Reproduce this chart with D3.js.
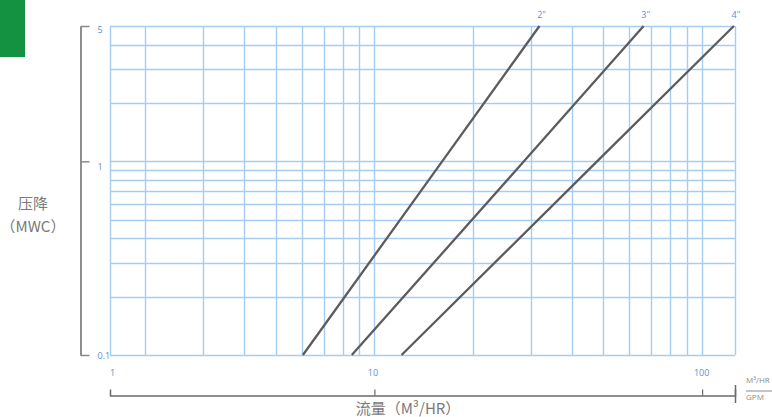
<!DOCTYPE html>
<html><head><meta charset="utf-8">
<script src="https://cdn.jsdelivr.net/npm/d3@7"></script>
<style>
html,body{margin:0;padding:0;background:#fff;}
svg{display:block;}
</style></head>
<body>
<svg id="chart" width="772" height="417"></svg>
<script>
// ---- data ----
const pressure = [0.1, 1, 5];                 // MWC
const flow2in  = [6.05, 16.1, 31.9];          // M3/HR
const flow3in  = [8.53, 28.6, 66.3];
const flow4in  = [12.1, 47.8, 125];
const seriesNames = ['2"', '3"', '4"'];
const xDomain = [1.56, 126];
const yDomain = [0.1, 5];
const xGridValues = [2,3,4,5,6,7,8,9,10,20,30,40,50,60,70,80,90,100];
const yGridValues = [0.2,0.3,0.4,0.5,0.6,0.7,0.8,0.9,1,2,3,4];
const yTickValues = [0.1, 1, 5];
const yTickLabels = ["0.1", "1", "5"];
const xTickValues = [1.56, 10, 100];
const xTickLabels = ["1", "10", "100"];

const svg = d3.select("#chart");
const L = 110, R = 735, T = 26, B = 355;

const x = d3.scaleLog().domain(xDomain).range([L, R]);
const y = d3.scaleLog().domain(yDomain).range([B, T]);

const gridColor = "#a6cdf0";
const blue = "#5b8fd4";
const gray = "#7a7a7a";
const font = "'Open Sans', 'Noto Sans', sans-serif";

// green corner block
svg.append("rect").attr("x",0).attr("y",0).attr("width",25).attr("height",57).attr("fill","#159241");

// grid
const g = svg.append("g");
g.selectAll("line.v").data([xDomain[0], ...xGridValues, xDomain[1]]).join("line")
  .attr("x1", d => Math.round(x(d))+0.5).attr("x2", d => Math.round(x(d))+0.5)
  .attr("y1", T).attr("y2", B)
  .attr("stroke", gridColor).attr("stroke-width", 1.4);
g.selectAll("line.h").data([yDomain[0], ...yGridValues, yDomain[1]]).join("line")
  .attr("y1", d => Math.round(y(d))+0.5).attr("y2", d => Math.round(y(d))+0.5)
  .attr("x1", L).attr("x2", R)
  .attr("stroke", gridColor).attr("stroke-width", 1.4);

// curves
const series = [flow2in, flow3in, flow4in];
const line = d3.line().x(d => x(d[0])).y(d => y(d[1]));
series.forEach((f, i) => {
  const pts = f.map((v, j) => [v, pressure[j]]);
  svg.append("path").attr("d", line(pts)).attr("fill","none")
    .attr("stroke","#5c5c5e").attr("stroke-width",2.3);
  svg.append("text").attr("x", x(f[f.length-1]) + 2).attr("y", 18)
    .attr("text-anchor","middle").attr("font-family",font)
    .attr("font-size", 9).attr("fill", blue).text(seriesNames[i]);
});

// y axis
const yAxis = d3.axisRight(y).tickValues(yTickValues)
  .tickFormat((d,i) => yTickLabels[i]).tickSize(9).tickSizeOuter(0).tickPadding(8);
const ya = svg.append("g").attr("transform","translate(80.5,0)").call(yAxis);
ya.select(".domain").attr("stroke","#6a6a6e").attr("stroke-width",1.5);
ya.selectAll(".tick line").attr("stroke","#8a8a8e").attr("stroke-width",1.5);
ya.selectAll(".tick text").attr("fill", blue).attr("font-size", 9)
  .attr("font-family",font)
  .attr("dy", d => d === 0.1 ? "0.4em" : (d === 1 ? "0.85em" : "0.75em"));

// x axis (bottom scale)
const xAxis = d3.axisTop(x).tickValues(xTickValues)
  .tickFormat((d,i) => xTickLabels[i]).tickSize(6).tickSizeOuter(6).tickPadding(14);
const xa = svg.append("g").attr("transform","translate(0,395.5)").call(xAxis);
xa.select(".domain").attr("stroke","#6a6a6e").attr("stroke-width",1.5);
xa.selectAll(".tick line").attr("stroke","#6a6a6e").attr("stroke-width",1.2);
xa.selectAll(".tick text").attr("fill", blue).attr("font-size", 9)
  .attr("font-family",font)
  .attr("dx", (d,i) => i === 0 ? "2" : (i === 1 ? "-2" : "-1"));
xa.selectAll(".tick").filter((d,i) => i === 0).select("line").remove();

// right end marker
svg.append("line").attr("x1",735.5).attr("x2",735.5).attr("y1",385).attr("y2",403)
  .attr("stroke","#6a6a6e").attr("stroke-width",1.5);
svg.append("text").attr("x",746).attr("y",383).attr("font-size",8)
  .attr("font-family",font).attr("fill","#8a8a8a").text("M³/HR");
svg.append("line").attr("x1",746).attr("x2",772).attr("y1",391).attr("y2",391)
  .attr("stroke","#8a8a8a").attr("stroke-width",1);
svg.append("text").attr("x",746).attr("y",400).attr("font-size",8)
  .attr("font-family",font).attr("fill","#8a8a8a").text("GPM");

// titles
svg.append("text").attr("x",408).attr("y",414).attr("text-anchor","middle")
  .attr("font-family","'Noto Sans CJK SC', sans-serif").attr("font-size",15)
  .attr("fill",gray).text("流量（M³/HR）");
svg.append("text").attr("x",33).attr("y",209).attr("text-anchor","middle")
  .attr("font-family","'Noto Sans CJK SC', sans-serif").attr("font-size",15)
  .attr("fill",gray).text("压降");
svg.append("text").attr("x",33).attr("y",232).attr("text-anchor","middle")
  .attr("font-family","'Noto Sans CJK SC', sans-serif").attr("font-size",15)
  .attr("fill",gray).text("（MWC）");
</script>
</body></html>
